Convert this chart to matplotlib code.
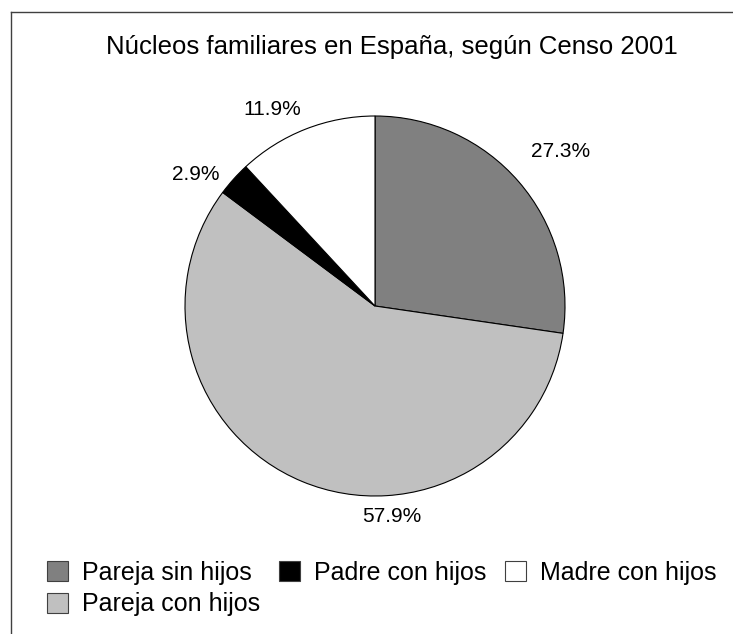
import matplotlib
matplotlib.use("Agg")
import matplotlib.pyplot as plt
import numpy as np
from matplotlib.patches import Patch
from matplotlib.lines import Line2D

plt.rcParams['font.family'] = ['Liberation Sans', 'DejaVu Sans']

# Data
title = "Núcleos familiares en España, según Censo 2001"
categories = ["Pareja sin hijos", "Pareja con hijos", "Padre con hijos", "Madre con hijos"]
values = [27.3, 57.9, 2.9, 11.9]
colors = ["#808080", "#C0C0C0", "#000000", "#FFFFFF"]

# Label placement (angle in degrees, distance in radii)
label_angles = [40.0, -85.3, 143.2, 117.5]
label_dists = [1.278, 1.10, 1.177, 1.175]

W, H = 733, 634
fig = plt.figure(figsize=(W / 100, H / 100), dpi=100)
ax = fig.add_axes([0, 0, 1, 1])

cx, cy, r = 375, H - 306, 190
wedges, _ = ax.pie(values, colors=colors, startangle=90, counterclock=False,
                   center=(cx, cy), radius=r,
                   wedgeprops=dict(edgecolor='black', linewidth=0.8))
ax.set_xlim(0, W)
ax.set_ylim(0, H)
ax.set_aspect('equal')
ax.axis('off')

for v, a, d in zip(values, label_angles, label_dists):
    t = np.deg2rad(a)
    ax.text(cx + d * r * np.cos(t), cy + d * r * np.sin(t), f"{v:.1f}%",
            ha='center', va='center_baseline', fontsize=15)

fig.text(392 / W, 1 - 54 / H, title, ha='center', va='baseline', fontsize=18.5)

# Frame (partially cropped)
fig.add_artist(Line2D([11 / W, 11 / W], [0, 1 - 12 / H], color='#404040', lw=1.0,
                      transform=fig.transFigure))
fig.add_artist(Line2D([11 / W, 1], [1 - 12 / H, 1 - 12 / H], color='#404040', lw=1.0,
                      transform=fig.transFigure))

order = [0, 1, 2, 3]
handles = [Patch(facecolor=colors[i], edgecolor='#404040', linewidth=0.8) for i in order]
labels = [categories[i] for i in order]
leg = fig.legend(handles, labels, loc='upper left', bbox_to_anchor=(47 / W, 1 - 561 / H),
                 ncol=3, frameon=False, fontsize=18, handlelength=0.85, handleheight=0.85,
                 handletextpad=0.55, columnspacing=0.75, labelspacing=0.3, borderpad=0,
                 borderaxespad=0)

fig.savefig("out.png", dpi=100)
